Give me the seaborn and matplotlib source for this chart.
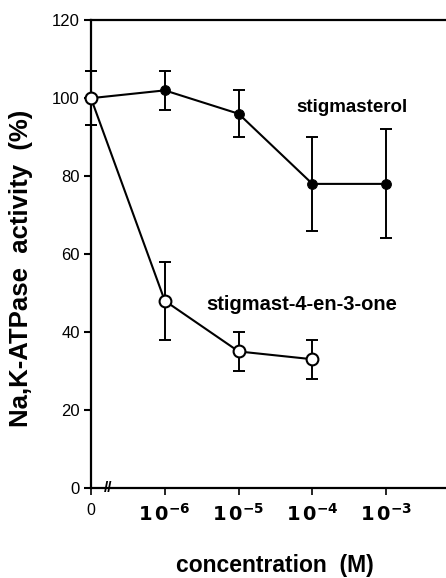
import matplotlib
matplotlib.use("Agg")
import matplotlib.pyplot as plt
import seaborn as sns

# concentration categories (evenly spaced on the axis)
conc_pos = [0, 1, 2, 3, 4]
conc_labels = ["0", r"$\mathbf{1\,0^{-6}}$", r"$\mathbf{1\,0^{-5}}$",
               r"$\mathbf{1\,0^{-4}}$", r"$\mathbf{1\,0^{-3}}$"]

# stigmasterol
stig_x = [0, 1, 2, 3, 4]
stig_mean = [100, 102, 96, 78, 78]
stig_err = [7, 5, 6, 12, 14]

# stigmast-4-en-3-one
one_x = [0, 1, 2, 3]
one_mean = [100, 48, 35, 33]
one_err = [7, 10, 5, 5]

sns.set_style("ticks")
plt.rcParams["font.family"] = ["Liberation Sans", "DejaVu Sans"]
plt.rcParams.update({"text.color": "black", "axes.labelcolor": "black",
                     "xtick.color": "black", "ytick.color": "black"})

fig = plt.figure(figsize=(4.46, 5.78), dpi=100)
ax = fig.add_axes([0.204, 0.156, 0.796, 0.809])

eb = dict(fmt="none", ecolor="black", elinewidth=1.4, capsize=4, capthick=1.4,
          zorder=2, clip_on=False)
ax.errorbar(stig_x, stig_mean, yerr=stig_err, **eb)
ax.errorbar(one_x, one_mean, yerr=one_err, **eb)

sns.lineplot(x=stig_x, y=stig_mean, ax=ax, color="black", lw=1.5,
             marker="o", markersize=7, markerfacecolor="black",
             markeredgecolor="black", zorder=3, clip_on=False)
sns.lineplot(x=one_x, y=one_mean, ax=ax, color="black", lw=1.5,
             marker="o", markersize=8.5, markerfacecolor="white",
             markeredgecolor="black", markeredgewidth=1.5, zorder=4,
             clip_on=False)

ax.set_xlim(0, 4.81)
ax.set_ylim(0, 120)
ax.set_yticks([0, 20, 40, 60, 80, 100, 120])
ax.set_xticks(conc_pos)
ax.set_xticklabels(conc_labels)
for i, lab in enumerate(ax.get_xticklabels()):
    lab.set_fontsize(11.5 if i == 0 else 14)
ax.tick_params(axis="y", labelsize=12, length=5, width=1.5, pad=3)
ax.tick_params(axis="x", length=5, width=1.2, pad=6)

for s in ["left", "bottom", "top"]:
    ax.spines[s].set_linewidth(1.6)
    ax.spines[s].set_color("black")
ax.spines["right"].set_visible(False)

# axis break mark
ax.text(0.23, 0, "//", ha="center", va="center", fontsize=11,
        fontweight="bold", clip_on=False)

ax.text(2.78, 97.5, "stigmasterol", fontsize=13.5, fontweight="bold",
        ha="left", va="center")
ax.text(1.56, 47, "stigmast-4-en-3-one", fontsize=14.5, fontweight="bold",
        ha="left", va="center")

ax.set_ylabel("Na,K-ATPase  activity  (%)", fontsize=18.5, fontweight="bold")
ax.yaxis.set_label_coords(-0.163, 0.47)
ax.set_xlabel("concentration  (M)", fontsize=16.5, fontweight="bold")
ax.xaxis.set_label_coords(0.518, -0.142)

fig.savefig("out.png", dpi=100)
